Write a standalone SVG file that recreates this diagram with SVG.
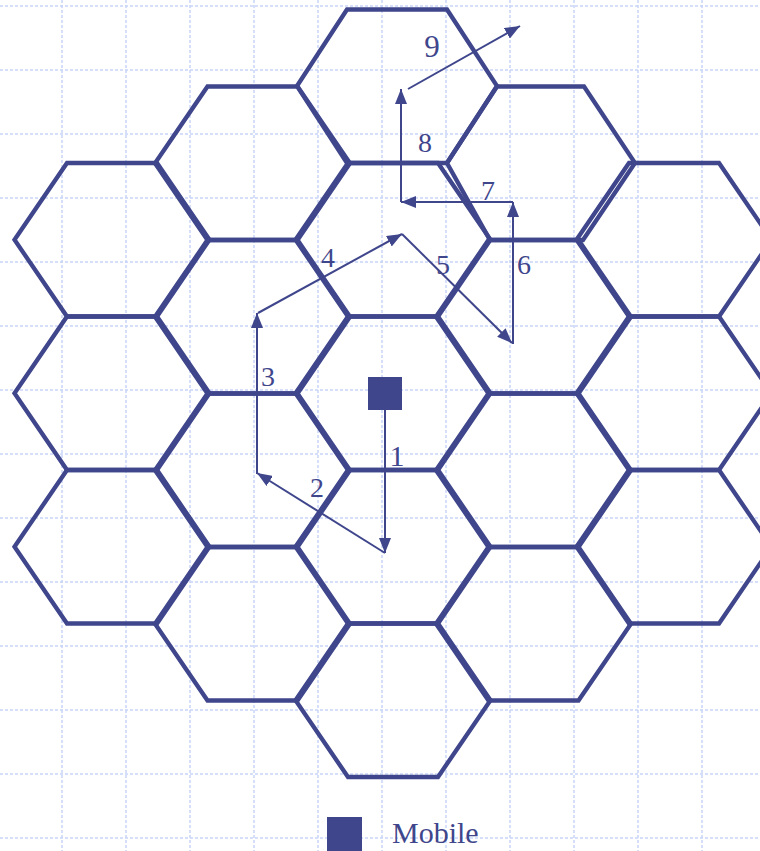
<svg xmlns="http://www.w3.org/2000/svg" width="760" height="851" viewBox="0 0 760 851">
<style>
.grid line{stroke:#c8d5f8;stroke-width:1.5;stroke-dasharray:3 2}
.hex polygon{fill:none;stroke:#3f468c;stroke-width:4.3;stroke-linejoin:miter}
.arrow{fill:none;stroke:#3f468c;stroke-width:2;marker-end:url(#ah)}
.lbl{font-family:"Liberation Serif","Times New Roman",serif;font-size:28px;fill:#3f468c;text-anchor:middle}
.sq{fill:#3f468c}
</style>
<defs>
<marker id="ah" markerUnits="userSpaceOnUse" markerWidth="15" markerHeight="12" refX="15" refY="6" orient="auto">
<path d="M0,0 L15,6 L0,12 z" fill="#3f468c"/>
</marker>
</defs>
<rect width="760" height="851" fill="#ffffff"/>
<g class="grid" id="grid">
<line x1="62" y1="0" x2="62" y2="851"/><line x1="126" y1="0" x2="126" y2="851"/><line x1="190" y1="0" x2="190" y2="851"/><line x1="254" y1="0" x2="254" y2="851"/><line x1="318" y1="0" x2="318" y2="851"/><line x1="382" y1="0" x2="382" y2="851"/><line x1="446" y1="0" x2="446" y2="851"/><line x1="510" y1="0" x2="510" y2="851"/><line x1="574" y1="0" x2="574" y2="851"/><line x1="638" y1="0" x2="638" y2="851"/><line x1="702" y1="0" x2="702" y2="851"/>
<line x1="0" y1="6" x2="760" y2="6"/><line x1="0" y1="70" x2="760" y2="70"/><line x1="0" y1="134" x2="760" y2="134"/><line x1="0" y1="198" x2="760" y2="198"/><line x1="0" y1="262" x2="760" y2="262"/><line x1="0" y1="326" x2="760" y2="326"/><line x1="0" y1="390" x2="760" y2="390"/><line x1="0" y1="454" x2="760" y2="454"/><line x1="0" y1="518" x2="760" y2="518"/><line x1="0" y1="582" x2="760" y2="582"/><line x1="0" y1="646" x2="760" y2="646"/><line x1="0" y1="710" x2="760" y2="710"/><line x1="0" y1="774" x2="760" y2="774"/><line x1="0" y1="838" x2="760" y2="838"/>
</g>
<g class="hex">
<g id="cell-0-0"><polygon points="14.5,239.75 67,163 157,163 209.5,239.75 157,316.5 67,316.5"/></g>
<g id="cell-0-1"><polygon points="14.5,393.25 67,316.5 157,316.5 209.5,393.25 157,470 67,470"/></g>
<g id="cell-0-2"><polygon points="14.5,546.75 67,470 157,470 209.5,546.75 157,623.5 67,623.5"/></g>
<g id="cell-1-0"><polygon points="155,163.25 207.5,86.5 297.5,86.5 350,163.25 297.5,240 207.5,240"/></g>
<g id="cell-1-1"><polygon points="155,316.75 207.5,240 297.5,240 350,316.75 297.5,393.5 207.5,393.5"/></g>
<g id="cell-1-2"><polygon points="155,470.25 207.5,393.5 297.5,393.5 350,470.25 297.5,547 207.5,547"/></g>
<g id="cell-1-3"><polygon points="155,623.75 207.5,547 297.5,547 350,623.75 297.5,700.5 207.5,700.5"/></g>
<g id="cell-2-0"><polygon points="297,86 347,9.5 447,9.5 497,86 447,163 347,163"/></g>
<g id="cell-2-1"><polygon points="295.5,239.75 348,163 438,163 490.5,239.75 438,316.5 348,316.5"/></g>
<g id="cell-2-2"><polygon points="295.5,393.25 348,316.5 438,316.5 490.5,393.25 438,470 348,470"/></g>
<g id="cell-2-3"><polygon points="295.5,546.75 348,470 438,470 490.5,546.75 438,623.5 348,623.5"/></g>
<g id="cell-2-4"><polygon points="295.5,700.25 348,623.5 438,623.5 490.5,700.25 438,777 348,777"/></g>
<g id="cell-3-0"><polygon points="447,163 497,86.5 584,86.5 635,163 583,240 490,240"/></g>
<g id="cell-3-1"><polygon points="436,316.75 488.5,240 578.5,240 631,316.75 578.5,393.5 488.5,393.5"/></g>
<g id="cell-3-2"><polygon points="436,470.25 488.5,393.5 578.5,393.5 631,470.25 578.5,547 488.5,547"/></g>
<g id="cell-3-3"><polygon points="436,623.75 488.5,547 578.5,547 631,623.75 578.5,700.5 488.5,700.5"/></g>
<g id="cell-4-0"><polygon points="576.5,239.75 629,163 719,163 771.5,239.75 719,316.5 629,316.5"/></g>
<g id="cell-4-1"><polygon points="576.5,393.25 629,316.5 719,316.5 771.5,393.25 719,470 629,470"/></g>
<g id="cell-4-2"><polygon points="576.5,546.75 629,470 719,470 771.5,546.75 719,623.5 629,623.5"/></g>
</g>
<g id="mobile"><rect class="sq" x="368" y="377" width="34" height="33"/></g>
<g id="connectors">
<path class="arrow" d="M385,410 L385,553"/>
<path class="arrow" d="M385,553 L257,473"/>
<path class="arrow" d="M257,474 L257,313"/>
<path class="arrow" d="M258,313 L402,234"/>
<path class="arrow" d="M402,234 L512,343"/>
<path class="arrow" d="M513,344 L513,202"/>
<path class="arrow" d="M513,202 L401,202"/>
<path class="arrow" d="M401,202 L401,89"/>
<path class="arrow" d="M408,89 L520,26"/>
</g>
<g id="labels">
<text class="lbl" x="397" y="466" style="font-size:30px">1</text>
<text class="lbl" x="317" y="497">2</text>
<text class="lbl" x="268" y="386">3</text>
<text class="lbl" x="328" y="267">4</text>
<text class="lbl" x="443" y="274">5</text>
<text class="lbl" x="524" y="274">6</text>
<text class="lbl" x="488" y="200">7</text>
<text class="lbl" x="425" y="152">8</text>
<text class="lbl" x="432" y="57" style="font-size:31px">9</text>
</g>
<g id="legend">
<rect class="sq" x="327" y="817" width="35" height="34"/>
<text x="392" y="843" style="font-family:'Liberation Serif','Times New Roman',serif;font-size:30px;fill:#3f468c">Mobile</text>
</g>
</svg>
